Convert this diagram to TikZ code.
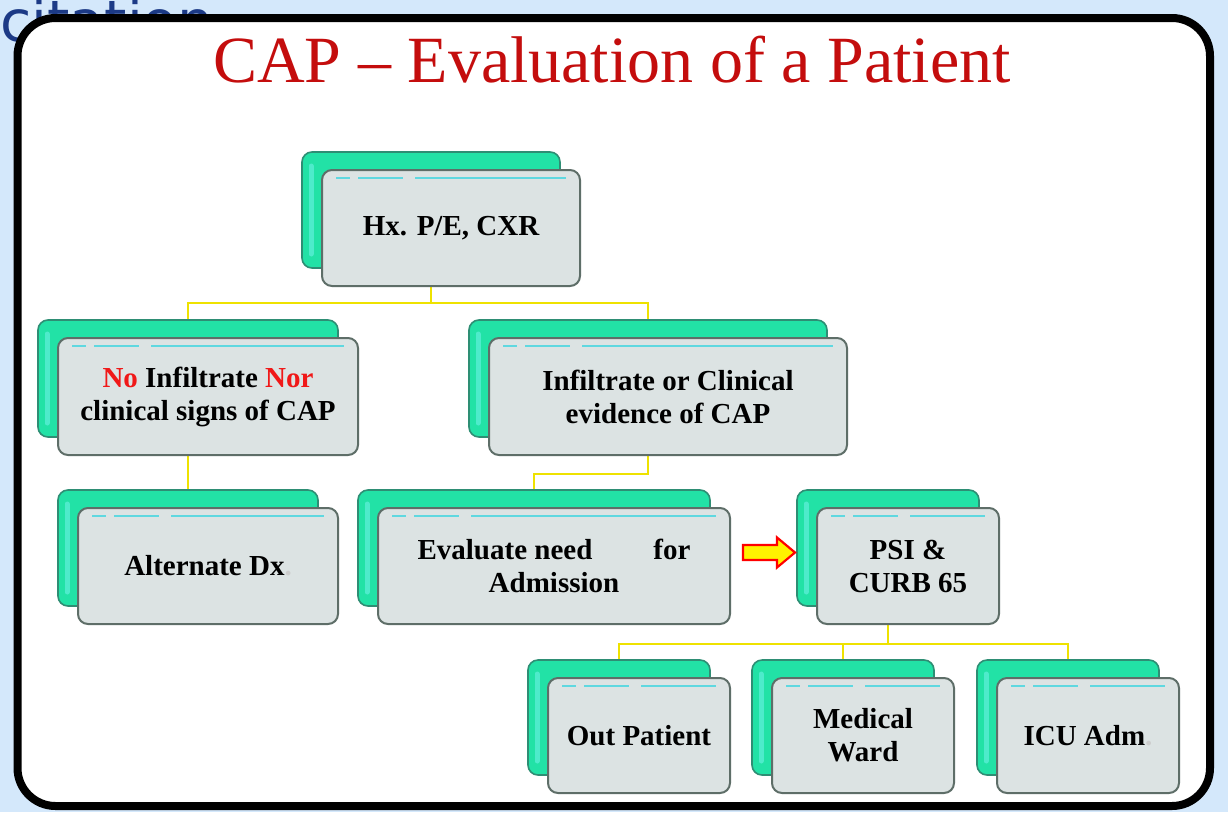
\documentclass[tikz,border=0pt]{standalone}
\usepackage{fontspec}
\setmainfont{Liberation Serif}
\newfontfamily\citefont{DejaVu Sans}
\definecolor{bgblue}{HTML}{D4E8FB}
\definecolor{citeblue}{HTML}{1C3A86}
\definecolor{titlered}{HTML}{C40D0D}
\definecolor{backfill}{HTML}{22E2A6}
\definecolor{backhi}{HTML}{4EEBCB}
\definecolor{backdraw}{HTML}{2E8E74}
\definecolor{frontfill}{HTML}{DCE3E3}
\definecolor{frontdraw}{HTML}{5E6E68}
\definecolor{frontcyan}{HTML}{5FD8E0}
\definecolor{linkyellow}{HTML}{EEE200}
\definecolor{nored}{HTML}{F01818}
\pgfdeclarelayer{bg}
\pgfsetlayers{bg,main}
\begin{document}
\begin{tikzpicture}[x=1pt,y=-1pt,
  backbox/.style={draw=backdraw, fill=backfill, rounded corners=10pt, line width=1.6pt, inner sep=0pt,
    path picture={\draw[backhi, line width=5pt, line cap=round]
      ([xshift=9pt,yshift=-14pt]path picture bounding box.north west) --
      ([xshift=9pt,yshift=14pt]path picture bounding box.south west);}},
  frontbox/.style={draw=frontdraw, fill=frontfill, rounded corners=10pt, line width=2pt, inner sep=0pt,
    align=center, font=\bfseries\fontsize{29}{33}\selectfont,
    path picture={\draw[frontcyan, line width=1.4pt, dash pattern=on 14pt off 8pt on 45pt off 12pt on 600pt]
      ([xshift=14pt,yshift=-8pt]path picture bounding box.north west) --
      ([xshift=-14pt,yshift=-8pt]path picture bounding box.north east);}},
  link/.style={draw=linkyellow, line width=2.4pt},
  blockarrow/.style={draw=red, fill=yellow, line width=2.2pt, line join=miter}]

\useasboundingbox (0,0) rectangle (1228,812);

% title
\node[anchor=base, inner sep=0pt, text=titlered, font=\fontsize{66}{70}\selectfont] (title) at (612,82) {CAP – Evaluation of a Patient};

% boxes: back (green) and front (grey)
\node[backbox, minimum width=258pt, minimum height=116pt] (hxb) at (431,210) {};
\node[frontbox, minimum width=258pt, minimum height=116pt] (hx) at (451,228) {Hx. P/E, CXR};

\node[backbox, minimum width=300pt, minimum height=117pt] (noinfb) at (188,378.5) {};
\node[frontbox, minimum width=300pt, minimum height=117pt] (noinf) at (208,396.5)
  {\textcolor{nored}{No} Infiltrate \textcolor{nored}{Nor}\\clinical signs of CAP};

\node[backbox, minimum width=358pt, minimum height=117pt] (infb) at (648,378.5) {};
\node[frontbox, minimum width=358pt, minimum height=117pt] (inf) at (668,396.5)
  {Infiltrate or Clinical\\evidence of CAP};

\node[backbox, minimum width=260pt, minimum height=116pt] (altb) at (188,548) {};
\node[frontbox, minimum width=260pt, minimum height=116pt] (alt) at (208,566)
  {Alternate Dx\textcolor{gray!40}{.}};

\node[backbox, minimum width=352pt, minimum height=116pt] (evalb) at (534,548) {};
\node[frontbox, minimum width=352pt, minimum height=116pt] (eval) at (554,566)
  {Evaluate need\hspace{61pt}for\\Admission};

\node[backbox, minimum width=182pt, minimum height=116pt] (psib) at (888,548) {};
\node[frontbox, minimum width=182pt, minimum height=116pt] (psi) at (908,566)
  {PSI \&\\CURB 65};

\node[backbox, minimum width=182pt, minimum height=115pt] (outb) at (619,717.5) {};
\node[frontbox, minimum width=182pt, minimum height=115pt] (out) at (639,735.5) {Out Patient};

\node[backbox, minimum width=182pt, minimum height=115pt] (medb) at (843,717.5) {};
\node[frontbox, minimum width=182pt, minimum height=115pt] (med) at (863,735.5) {Medical\\Ward};

\node[backbox, minimum width=182pt, minimum height=115pt] (icub) at (1068,717.5) {};
\node[frontbox, minimum width=182pt, minimum height=115pt] (icu) at (1088,735.5)
  {ICU Adm\textcolor{gray!40}{.}};

% block arrow (shape)
\coordinate (arr) at (743,552.5);
\draw[blockarrow] (arr) ++(0,-7.5) -- ++(34,0) -- ++(0,-7.5) -- ++(18,15) -- ++(-18,15)
  -- ++(0,-7.5) -- ++(-34,0) -- cycle;

\begin{pgfonlayer}{bg}
  \fill[bgblue] (0,0) rectangle (1228,812);
  \node[anchor=base west, inner sep=0pt, text=citeblue, font=\citefont\fontsize{57}{60}\selectfont] (cite) at (0,41) {citation};
  \draw[line width=8pt, fill=white, rounded corners=38pt] (17.5,18) rectangle (1210,806);
  % connectors
  \draw[link] (hxb.south) -- ++(0,34) coordinate (hxj) -| (noinfb.north);
  \draw[link] (hxj) -| (infb.north);
  \draw[link] (noinfb.south) -- (altb.north);
  \draw[link] (infb.south) -- ++(0,36) -| (evalb.north);
  \draw[link] (psib.south) -- ++(0,37) coordinate (psij) -| (outb.north);
  \draw[link] (psij) -| (medb.north);
  \draw[link] (psij) -| (icub.north);
\end{pgfonlayer}
\end{tikzpicture}
\end{document}
